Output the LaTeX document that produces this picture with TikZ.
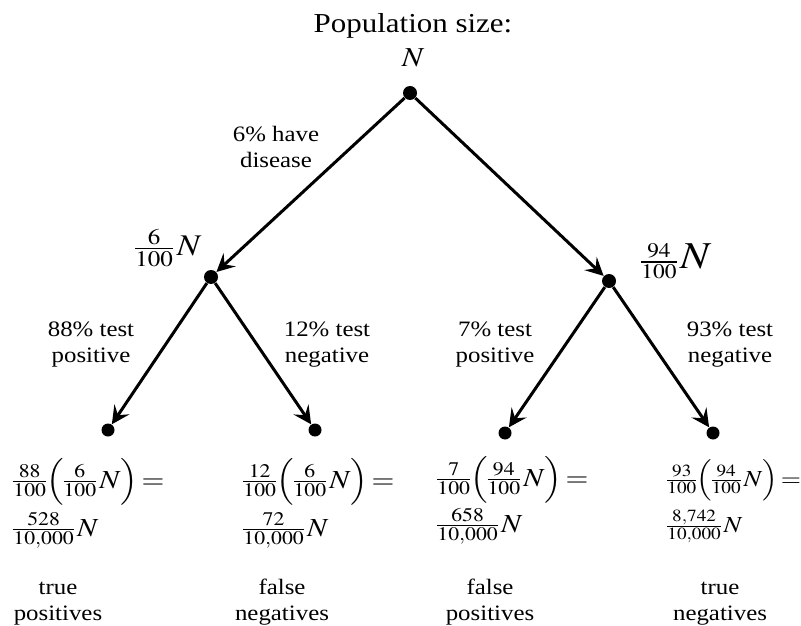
\documentclass[tikz,border=0pt]{standalone}
\usepackage{amsmath}
\usepackage{mathptmx}
\usepackage[no-math]{fontspec}
\setmainfont{Liberation Serif}[FakeStretch=1.13]
\usepackage{graphicx}
\usetikzlibrary{arrows.meta}
\newcommand{\wide}[1]{\scalebox{1.13}[1]{#1}}
\newcommand{\fr}[2]{{\tfrac{#1}{#2}}}
\nulldelimiterspace=0pt

\begin{document}
\begin{tikzpicture}[
    x=0.5pt, y=-0.5pt,
    dot/.style={circle, fill=black, inner sep=0pt, minimum size=7pt},
    leafdot/.style={dot, minimum size=6.5pt},
    arrow/.style={-{Stealth[length=9pt, width=9pt, inset=3.5pt]}, line width=1.5pt},
    edgelbl/.style={align=center, inner sep=0pt, anchor=base,
      font=\fontsize{11}{13}\selectfont},
    outcome/.style={edgelbl},
    formula/.style={anchor=base west, inner sep=0pt,
      font=\fontsize{13}{15}\selectfont}
  ]
  \useasboundingbox (0,0) rectangle (801,625);
  % tree points
  \node[dot] (root) at (410,93) {};
  \node[dot] (sick) at (211,277) {};
  \node[dot] (well) at (609,281) {};
  \node[leafdot] (tp) at (108,430) {};
  \node[leafdot] (fn) at (315,430) {};
  \node[leafdot] (fp) at (505,433) {};
  \node[leafdot] (tn) at (713,433) {};
  \draw[arrow] (root) -- (sick);
  \draw[arrow] (root) -- (well);
  \draw[arrow] (sick) -- (tp);
  \draw[arrow] (sick) -- (fn);
  \draw[arrow] (well) -- (fp);
  \draw[arrow] (well) -- (tn);
  % top label
  \node[anchor=base, inner sep=0pt, font=\fontsize{13.7}{16}\selectfont]
    (title) at (413,33) {Population size:};
  \node[anchor=base, inner sep=0pt, font=\fontsize{13.7}{16}\selectfont]
    (rootlbl) at (413,67) {\wide{$N$}};
  % branch labels (base = last line)
  \node[edgelbl] (have) at (276,168) {6\% have\\disease};
  \node[edgelbl] (sickpos) at (91,362) {88\% test\\positive};
  \node[edgelbl] (sickneg) at (327,362) {12\% test\\negative};
  \node[edgelbl] (wellpos) at (495,362) {7\% test\\positive};
  \node[edgelbl] (wellneg) at (730,362) {93\% test\\negative};
  % middle amounts
  \node[anchor=base west, inner sep=0pt, font=\fontsize{15}{17}\selectfont]
    (sicklbl) at (135,256) {\wide{$\fr{6}{100}\,N$}};
  \node[anchor=base west, inner sep=0pt, font=\fontsize{14}{17}\selectfont]
    (welllbl) at (641,269) {\wide{$\fr{94}{100}\,${\fontsize{19}{20}\selectfont$N$}}};
  % leaf amounts
  \node[formula] (tpeq) at (13,488) {\wide{$\fr{88}{100}\Bigl(\fr{6}{100}\,N\Bigr)\!=$}};
  \node[formula] (tpval) at (13,536) {\wide{$\fr{528}{10{,}000}\,N$}};
  \node[formula] (fneq) at (243,488) {\wide{$\fr{12}{100}\Bigl(\fr{6}{100}\,N\Bigr)\!=$}};
  \node[formula] (fnval) at (243,536) {\wide{$\fr{72}{10{,}000}\,N$}};
  \node[formula] (fpeq) at (437,486) {\wide{$\fr{7}{100}\Bigl(\fr{94}{100}\,N\Bigr)\!=$}};
  \node[formula] (fpval) at (437,532) {\wide{$\fr{658}{10{,}000}\,N$}};
  \node[formula, font=\fontsize{11.5}{14}\selectfont] (tneq) at (667,486) {\wide{$\fr{93}{100}\Bigl(\fr{94}{100}\,N\Bigr)\!=$}};
  \node[formula, font=\fontsize{11.5}{14}\selectfont] (tnval) at (667,532) {\wide{$\fr{8{,}742}{10{,}000}\,N$}};
  % outcomes
  \node[outcome] (tplbl) at (58,620) {true\\positives};
  \node[outcome] (fnlbl) at (282,620) {false\\negatives};
  \node[outcome] (fplbl) at (490,620) {false\\positives};
  \node[outcome] (tnlbl) at (720,620) {true\\negatives};
\end{tikzpicture}
\end{document}
